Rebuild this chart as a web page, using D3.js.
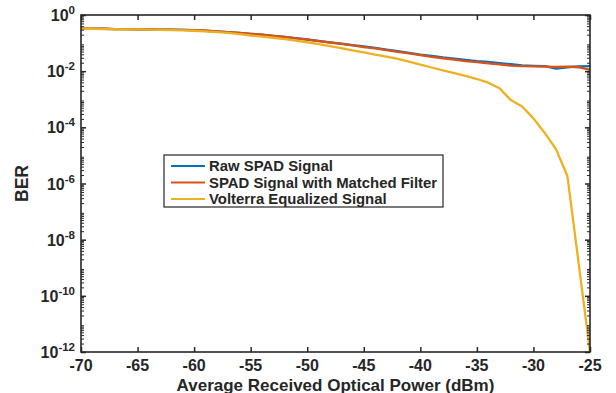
<!DOCTYPE html>
<html><head><meta charset="utf-8">
<script src="https://cdn.jsdelivr.net/npm/d3@7"></script>
<style>body{margin:0;background:#fff}svg{display:block}text{font-family:"Liberation Sans",Arial,sans-serif;font-weight:bold;fill:#262626}</style>
</head><body>
<script>
const power = [-70,-69,-68,-67,-66,-65,-64,-63,-62,-61,-60,-59,-58,-57,-56,-55,-54,-53,-52,-51,-50,-49,-48,-47,-46,-45,-44,-43,-42,-41,-40,-39,-38,-37,-36,-35,-34,-33,-32,-31,-30,-29,-28,-27,-26,-25];
const rawSPAD = [0.324,0.324,0.324,0.316,0.316,0.309,0.309,0.302,0.302,0.295,0.288,0.275,0.263,0.245,0.229,0.214,0.200,0.182,0.166,0.150,0.134,0.119,0.106,0.0950,0.0850,0.0759,0.0676,0.0589,0.0513,0.0447,0.0389,0.0347,0.0309,0.0282,0.0251,0.0229,0.0214,0.0195,0.0178,0.0162,0.0155,0.0151,0.0123,0.0138,0.0148,0.0151];
const matchedFilter = [0.324,0.324,0.324,0.316,0.316,0.309,0.309,0.302,0.302,0.295,0.288,0.275,0.263,0.245,0.229,0.214,0.200,0.182,0.166,0.148,0.132,0.117,0.105,0.0933,0.0832,0.0724,0.0646,0.0562,0.0490,0.0427,0.0372,0.0324,0.0288,0.0257,0.0229,0.0209,0.0191,0.0174,0.0158,0.0151,0.0148,0.0145,0.0141,0.0145,0.0138,0.0112];
const volterra = [0.324,0.324,0.316,0.316,0.309,0.309,0.302,0.295,0.288,0.282,0.275,0.263,0.245,0.229,0.209,0.186,0.170,0.155,0.138,0.123,0.107,0.0912,0.0776,0.0661,0.0550,0.0468,0.0389,0.0331,0.0275,0.0219,0.0170,0.0135,0.0107,0.00851,0.00676,0.00525,0.00389,0.00245,9.33e-4,5.50e-4,2.09e-4,6.31e-5,1.66e-5,1.86e-6,1.41e-9,1e-12];
const seriesNames = ["Raw SPAD Signal","SPAD Signal with Matched Filter","Volterra Equalized Signal"];
const seriesColors = ["#0072BD","#D95319","#EDB120"];
const xTicks = [-70,-65,-60,-55,-50,-45,-40,-35,-30,-25];
const yTickExps = [0,-2,-4,-6,-8,-10,-12];
const xLabel = "Average Received Optical Power (dBm)";
const yLabel = "BER";

const W=616,H=393, L=81,R=590,T=15,B=352;
const svg=d3.select("body").append("svg").attr("width",W).attr("height",H);
const x=d3.scaleLinear().domain([-70,-25]).range([L,R]);
const y=d3.scaleLog().domain([1e-12,1]).range([B,T]);
const ax="#262626";

svg.append("defs").append("clipPath").attr("id","clip").append("rect").attr("x",L).attr("y",T).attr("width",R-L).attr("height",B-T);

const all=[rawSPAD,matchedFilter,volterra];
const line=d3.line().x((d,i)=>x(power[i])).y(d=>y(d));
const g=svg.append("g").attr("clip-path","url(#clip)");
all.forEach((s,k)=>{
  g.append("path").datum(s).attr("d",line).attr("fill","none").attr("stroke",seriesColors[k]).attr("stroke-width",2.3).attr("stroke-linejoin","round");
});

const yMinor=[];
for(let e=-12;e<0;e++){for(let m=2;m<=9;m++)yMinor.push(m*Math.pow(10,e));}
const yMajor=yTickExps.map(e=>Math.pow(10,e));
const axG=svg.append("g");
axG.append("g").attr("transform",`translate(${L},0)`).call(d3.axisRight(y).tickValues(yMinor).tickSize(3).tickFormat("")).call(s=>{s.select(".domain").remove();s.selectAll("line").attr("stroke",ax)});
axG.append("g").attr("transform",`translate(${L},0)`).call(d3.axisRight(y).tickValues(yMajor).tickSize(5).tickFormat("")).call(s=>{s.select(".domain").remove();s.selectAll("line").attr("stroke",ax).attr("stroke-width",1.5)});
axG.append("g").attr("transform",`translate(${R},0)`).call(d3.axisLeft(y).tickValues(yMinor).tickSize(3).tickFormat("")).call(s=>{s.select(".domain").remove();s.selectAll("line").attr("stroke",ax)});
axG.append("g").attr("transform",`translate(${R},0)`).call(d3.axisLeft(y).tickValues(yMajor).tickSize(5).tickFormat("")).call(s=>{s.select(".domain").remove();s.selectAll("line").attr("stroke",ax).attr("stroke-width",1.5)});
axG.append("g").attr("transform",`translate(0,${B})`).call(d3.axisTop(x).tickValues(xTicks).tickSize(5).tickFormat("")).call(s=>{s.select(".domain").remove();s.selectAll("line").attr("stroke",ax).attr("stroke-width",1.5)});
axG.append("g").attr("transform",`translate(0,${T})`).call(d3.axisBottom(x).tickValues(xTicks).tickSize(5).tickFormat("")).call(s=>{s.select(".domain").remove();s.selectAll("line").attr("stroke",ax).attr("stroke-width",1.5)});
svg.append("rect").attr("x",L).attr("y",T).attr("width",R-L).attr("height",B-T).attr("fill","none").attr("stroke",ax).attr("stroke-width",1.6);

svg.append("g").selectAll("text").data(xTicks).join("text")
  .attr("x",d=>x(d)).attr("y",B+19).attr("text-anchor","middle").attr("font-size",16).text(d=>d);
const yl=svg.append("g").selectAll("text").data(yTickExps).join("text")
  .attr("x",L-6).attr("y",d=>y(Math.pow(10,d))+6).attr("text-anchor","end").attr("font-size",16);
yl.append("tspan").text("10");
yl.append("tspan").attr("dy",-7).attr("font-size",11.5).text(d=>d);

svg.append("text").attr("x",(L+R)/2).attr("y",390.5).attr("text-anchor","middle").attr("font-size",17).text(xLabel);
svg.append("text").attr("transform",`translate(28,${(T+B)/2}) rotate(-90)`).attr("text-anchor","middle").attr("font-size",17.5).text(yLabel);

const lg=svg.append("g");
lg.append("rect").attr("x",164).attr("y",155).attr("width",279).attr("height",52).attr("fill","#fff").attr("stroke",ax).attr("stroke-width",1.2);
seriesNames.forEach((n,k)=>{
  const yy=166+k*16.5;
  lg.append("line").attr("x1",171).attr("x2",205).attr("y1",yy).attr("y2",yy).attr("stroke",seriesColors[k]).attr("stroke-width",2);
  lg.append("text").attr("x",209).attr("y",yy+5).attr("font-size",14.9).text(n);
});
</script>
</body></html>
